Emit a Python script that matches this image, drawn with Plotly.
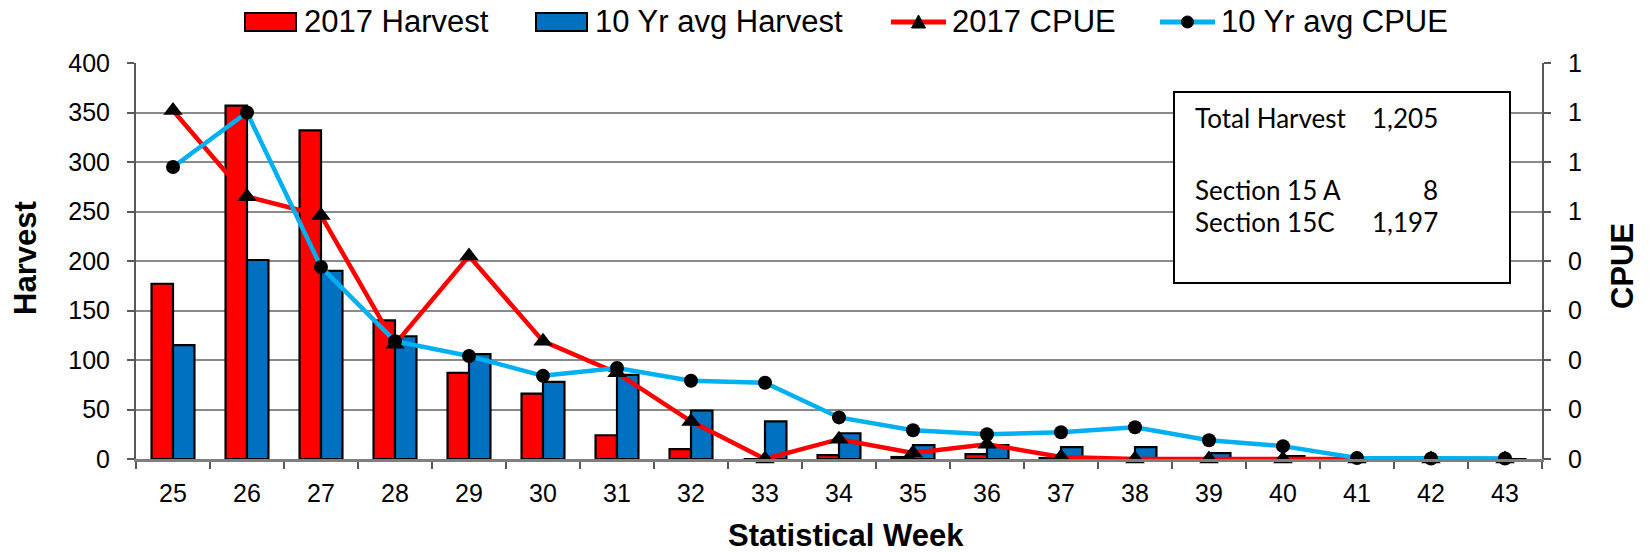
import plotly.graph_objects as go

# ---- data -------------------------------------------------------------
weeks = [str(w) for w in range(25, 44)]
harvest_2017 = [177, 357, 332, 140, 87, 66, 24, 10, 0, 4, 2, 5, 1, 0, 0, 0, 0, 0, 0]
harvest_10yr = [115, 201, 190, 124, 106, 78, 85, 49, 38, 26, 14, 14, 12, 12, 6, 3, 0, 0, 0]
cpue_2017 = [0.704, 0.530, 0.492, 0.232, 0.410, 0.238, 0.174, 0.076, 0.000, 0.040,
             0.012, 0.030, 0.004, 0.000, 0.000, 0.000, 0.000, 0.000, 0.000]
cpue_10yr = [0.590, 0.700, 0.388, 0.238, 0.208, 0.168, 0.184, 0.158, 0.154, 0.084,
             0.058, 0.050, 0.054, 0.064, 0.038, 0.026, 0.002, 0.001, 0.001]
section_labels = ["Section 15 A", "Section 15C"]
section_harvest = [8, 1197]

series_names = ["2017 Harvest", "10 Yr avg Harvest", "2017 CPUE", "10 Yr avg CPUE"]

RED = "#FF0000"
BLUE = "#0070C0"
CYAN = "#00B0F0"
AXIS_GREY = "#595959"
GRID_GREY = "#8a8a8a"
ARIAL = "Liberation Sans, Arial, sans-serif"
BOX_FONT = "Lato, Carlito, Calibri, sans-serif"

# ---- geometry helpers (pixel -> paper) --------------------------------
W, H = 1650, 552
ML, MR, MT, MB = 136, 108, 63, 93
PW, PH = W - ML - MR, H - MT - MB


def px(x):
    return (x - ML) / PW


def py(y):
    return (H - MB - y) / PH


fig = go.Figure()

fig.add_trace(go.Bar(
    x=weeks, y=harvest_2017, name=series_names[0],
    marker=dict(color=RED, line=dict(color="black", width=2.2)),
    showlegend=False,
))
fig.add_trace(go.Bar(
    x=weeks, y=harvest_10yr, name=series_names[1],
    marker=dict(color=BLUE, line=dict(color="black", width=2.2)),
    showlegend=False,
))
fig.add_trace(go.Scatter(
    x=weeks, y=cpue_2017, name=series_names[2], yaxis="y2", mode="lines+markers",
    line=dict(color=RED, width=4.5),
    marker=dict(symbol="triangle-up", size=17, color="black"),
    showlegend=False, cliponaxis=False,
))
fig.add_trace(go.Scatter(
    x=weeks, y=cpue_10yr, name=series_names[3], yaxis="y2", mode="lines+markers",
    line=dict(color=CYAN, width=4.5),
    marker=dict(symbol="circle", size=14, color="black"),
    showlegend=False, cliponaxis=False,
))

shapes = []
annotations = []

# ---- legend across the top --------------------------------------------
legend_left = [245, 536, 891, 1160]
legend_cy = 22
for i, name in enumerate(series_names):
    x0 = legend_left[i]
    if i < 2:
        colour = RED if i == 0 else BLUE
        shapes.append(dict(type="rect", xref="paper", yref="paper",
                           x0=px(x0), x1=px(x0 + 51), y0=py(legend_cy + 9), y1=py(legend_cy - 9),
                           fillcolor=colour, line=dict(color="black", width=2)))
        tx = x0 + 57
    else:
        colour = RED if i == 2 else CYAN
        shapes.append(dict(type="line", xref="paper", yref="paper",
                           x0=px(x0), x1=px(x0 + 55), y0=py(legend_cy), y1=py(legend_cy),
                           line=dict(color=colour, width=5)))
        cx = x0 + 27.5
        if i == 2:
            path = "M {} {} L {} {} L {} {} Z".format(
                px(cx - 7), py(legend_cy + 6), px(cx + 7), py(legend_cy + 6), px(cx), py(legend_cy - 7))
            shapes.append(dict(type="path", xref="paper", yref="paper", path=path,
                               fillcolor="black", line=dict(color="black", width=1)))
        else:
            shapes.append(dict(type="circle", xref="paper", yref="paper",
                               x0=px(cx - 6), x1=px(cx + 6), y0=py(legend_cy + 6), y1=py(legend_cy - 6),
                               fillcolor="black", line=dict(color="black", width=1)))
        tx = x0 + 59
    annotations.append(dict(text=name, xref="paper", yref="paper", x=px(tx), y=py(legend_cy),
                            xanchor="left", yanchor="middle", showarrow=False,
                            font=dict(family=ARIAL, size=31, color="black")))

# ---- summary box ------------------------------------------------------
shapes.append(dict(type="rect", xref="paper", yref="paper", layer="above",
                   x0=px(1174), x1=px(1510), y0=py(283), y1=py(92),
                   fillcolor="white", line=dict(color="black", width=2)))
box_rows = [("Total Harvest", sum(harvest_2017), 118)]
box_rows += [(lab, val, y) for lab, val, y in zip(section_labels, section_harvest, [190, 222])]
for lab, val, y in box_rows:
    annotations.append(dict(text=lab, xref="paper", yref="paper", x=px(1193), y=py(y),
                            xanchor="left", yanchor="middle", showarrow=False,
                            font=dict(family=BOX_FONT, size=26, color="black")))
    annotations.append(dict(text=f"{val:,}", xref="paper", yref="paper", x=px(1440), y=py(y),
                            xanchor="right", yanchor="middle", showarrow=False,
                            font=dict(family=BOX_FONT, size=26, color="black")))

# ---- axis titles ------------------------------------------------------
title_font = dict(family=ARIAL, size=31, color="black", weight="bold")
annotations.append(dict(text="<b>Harvest</b>", xref="paper", yref="paper", x=px(25), y=py(258),
                        textangle=-90, showarrow=False, xanchor="center", yanchor="middle",
                        font=title_font))
annotations.append(dict(text="<b>CPUE</b>", xref="paper", yref="paper", x=px(1622), y=py(266),
                        textangle=-90, showarrow=False, xanchor="center", yanchor="middle",
                        font=title_font))
annotations.append(dict(text="<b>Statistical Week</b>", xref="paper", yref="paper", x=px(846), y=py(535),
                        showarrow=False, xanchor="center", yanchor="middle", font=title_font,
                        borderpad=0))

tick_font = dict(family=ARIAL, size=25, color="black")

fig.update_layout(
    width=W, height=H,
    margin=dict(l=ML, r=MR, t=MT, b=MB, pad=0),
    paper_bgcolor="white", plot_bgcolor="white",
    barmode="group", bargap=0.42, bargroupgap=0,
    showlegend=False,
    xaxis=dict(
        type="category", range=[-0.5, len(weeks) - 0.5], tickson="boundaries",
        ticks="outside", ticklen=7, tickwidth=1.5,
        tickcolor=AXIS_GREY, showline=True, linecolor="#7f7f7f", linewidth=2.5,
        showgrid=False, tickfont=tick_font, ticklabelstandoff=10, zeroline=False,
    ),
    yaxis=dict(
        range=[0, 400], dtick=50, ticks="outside", ticklen=7, tickwidth=1.5, tickcolor=AXIS_GREY,
        showline=True, linecolor=AXIS_GREY, linewidth=2, showgrid=True, gridcolor=GRID_GREY,
        gridwidth=1.5, zeroline=False, tickfont=tick_font, ticklabelstandoff=12,
    ),
    yaxis2=dict(
        range=[0, 0.8], dtick=0.1, tickformat=".0f", overlaying="y", side="right",
        ticks="outside", ticklen=7, tickwidth=1.5, tickcolor=AXIS_GREY,
        showline=True, linecolor=AXIS_GREY, linewidth=2, showgrid=False, zeroline=False,
        tickfont=tick_font, ticklabelstandoff=12,
    ),
    shapes=shapes,
    annotations=annotations,
)

fig.write_html("out.html")
